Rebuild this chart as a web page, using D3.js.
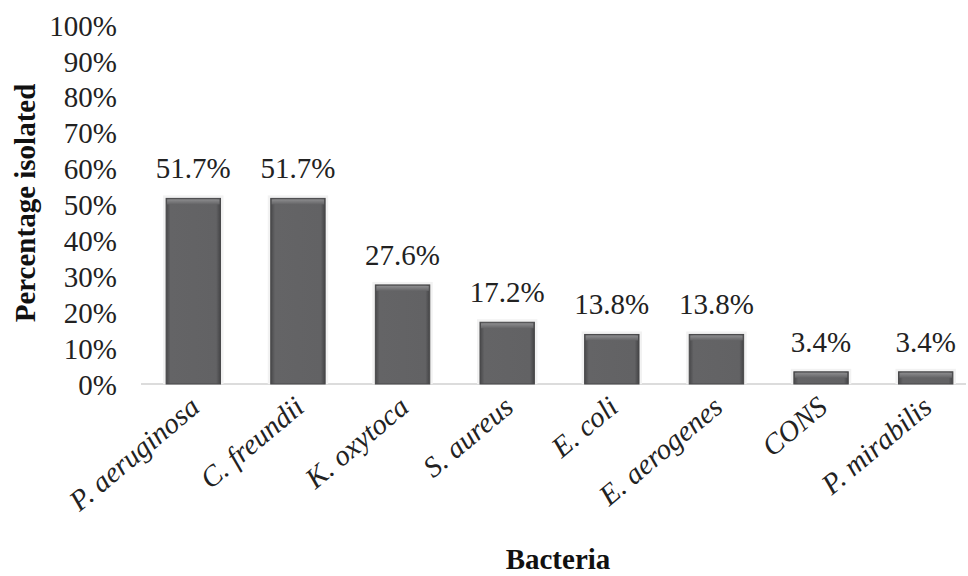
<!DOCTYPE html>
<meta charset="utf-8">
<style>
    body { margin: 0; background: #fff; }
    text { font-family: "Liberation Serif", "Times New Roman", serif; }
</style>
<body>
<script src="https://cdn.jsdelivr.net/npm/d3@7"></script>
<script>

    var categories = ["P. aeruginosa", "C. freundii", "K. oxytoca", "S. aureus",
                      "E. coli", "E. aerogenes", "CONS", "P. mirabilis"];
    var values = [51.7, 51.7, 27.6, 17.2, 13.8, 13.8, 3.4, 3.4];
    var yTicks = [0, 10, 20, 30, 40, 50, 60, 70, 80, 90, 100];

    var width = 968,
        height = 576;
    var plotLeft = 141, plotRight = 978, plotTop = 25, plotBottom = 384;
    var serif = "Liberation Serif, Times New Roman, serif";

    var svg = d3.select("body").append("svg")
        .attr("width", width)
        .attr("height", height);

    var defs = svg.append("defs");
    var grad = defs.append("linearGradient").attr("id", "barGrad")
        .attr("x1", 0).attr("x2", 1).attr("y1", 0).attr("y2", 0);
    grad.append("stop").attr("offset", "0%").attr("stop-color", "#48484a");
    grad.append("stop").attr("offset", "8%").attr("stop-color", "#646466");
    grad.append("stop").attr("offset", "92%").attr("stop-color", "#626264");
    grad.append("stop").attr("offset", "100%").attr("stop-color", "#444446");
    var topGrad = defs.append("linearGradient").attr("id", "topGrad")
        .attr("x1", 0).attr("x2", 0).attr("y1", 0).attr("y2", 1);
    topGrad.append("stop").attr("offset", "0%").attr("stop-color", "#8c8c8e");
    topGrad.append("stop").attr("offset", "100%").attr("stop-color", "#646466");

    var x = d3.scaleBand()
        .domain(categories)
        .range([plotLeft, plotRight])
        .paddingInner(0.48)
        .paddingOuter(0.24);

    var y = d3.scaleLinear()
        .domain([0, 100])
        .range([plotBottom, plotTop]);

    // y axis (labels only)
    var yAxis = svg.append("g")
        .attr("transform", "translate(117,0)")
        .call(d3.axisLeft(y).tickValues(yTicks).tickSize(0).tickPadding(0)
            .tickFormat(function(d){ return d + "%"; }));
    yAxis.attr("font-family", serif).attr("font-size", 29);
    yAxis.select(".domain").remove();
    yAxis.selectAll(".tick text").attr("dy", "0.35em").attr("fill", "#222");

    // baseline
    svg.append("line")
        .attr("x1", plotLeft).attr("x2", 966)
        .attr("y1", y(0)).attr("y2", y(0))
        .attr("stroke", "#d0d0d0").attr("stroke-width", 1.5);

    var bars = svg.append("g").selectAll("g")
        .data(values)
        .enter().append("g");

    // soft shadow
    bars.append("rect")
        .attr("x", function(d, i){ return x(categories[i]) - 3; })
        .attr("y", function(d){ return y(d) - 3; })
        .attr("width", x.bandwidth() + 6)
        .attr("height", function(d){ return y(0) - y(d) + 3; })
        .attr("fill", "#f2f2f2");

    bars.append("rect")
        .attr("x", function(d, i){ return x(categories[i]); })
        .attr("y", function(d){ return y(d); })
        .attr("width", x.bandwidth())
        .attr("height", function(d){ return y(0) - y(d); })
        .attr("fill", "url(#barGrad)")
        .attr("stroke", "#48484a").attr("stroke-width", 1);

    bars.append("rect")
        .attr("x", function(d, i){ return x(categories[i]) + 1; })
        .attr("y", function(d){ return y(d) + 1; })
        .attr("width", x.bandwidth() - 2)
        .attr("height", 5)
        .attr("fill", "url(#topGrad)");

    bars.append("text")
        .attr("text-anchor", "middle")
        .attr("font-size", 29)
        .attr("fill", "#222")
        .attr("x", function(d, i){ return x(categories[i]) + x.bandwidth() / 2; })
        .attr("y", function(d){ return y(d) - 20; })
        .text(function(d){ return d.toFixed(1) + "%"; });

    // category labels
    svg.append("g").selectAll("text")
        .data(categories)
        .enter().append("text")
        .attr("text-anchor", "end")
        .attr("font-size", 29)
        .attr("font-style", "italic")
        .attr("fill", "#222")
        .attr("transform", function(d){
            return "translate(" + (x(d) + x.bandwidth() / 2 + 8) + "," + (y(0) + 26) + ") rotate(-40)";
        })
        .text(function(d){ return d; });

    svg.append("text")
        .attr("text-anchor", "middle")
        .attr("font-size", 29)
        .attr("font-weight", "bold")
        .attr("fill", "#111")
        .attr("transform", "translate(35,203) rotate(-90)")
        .text("Percentage isolated");

    svg.append("text")
        .attr("text-anchor", "middle")
        .attr("font-size", 29)
        .attr("font-weight", "bold")
        .attr("fill", "#111")
        .attr("x", 558).attr("y", 569)
        .text("Bacteria");
</script>
